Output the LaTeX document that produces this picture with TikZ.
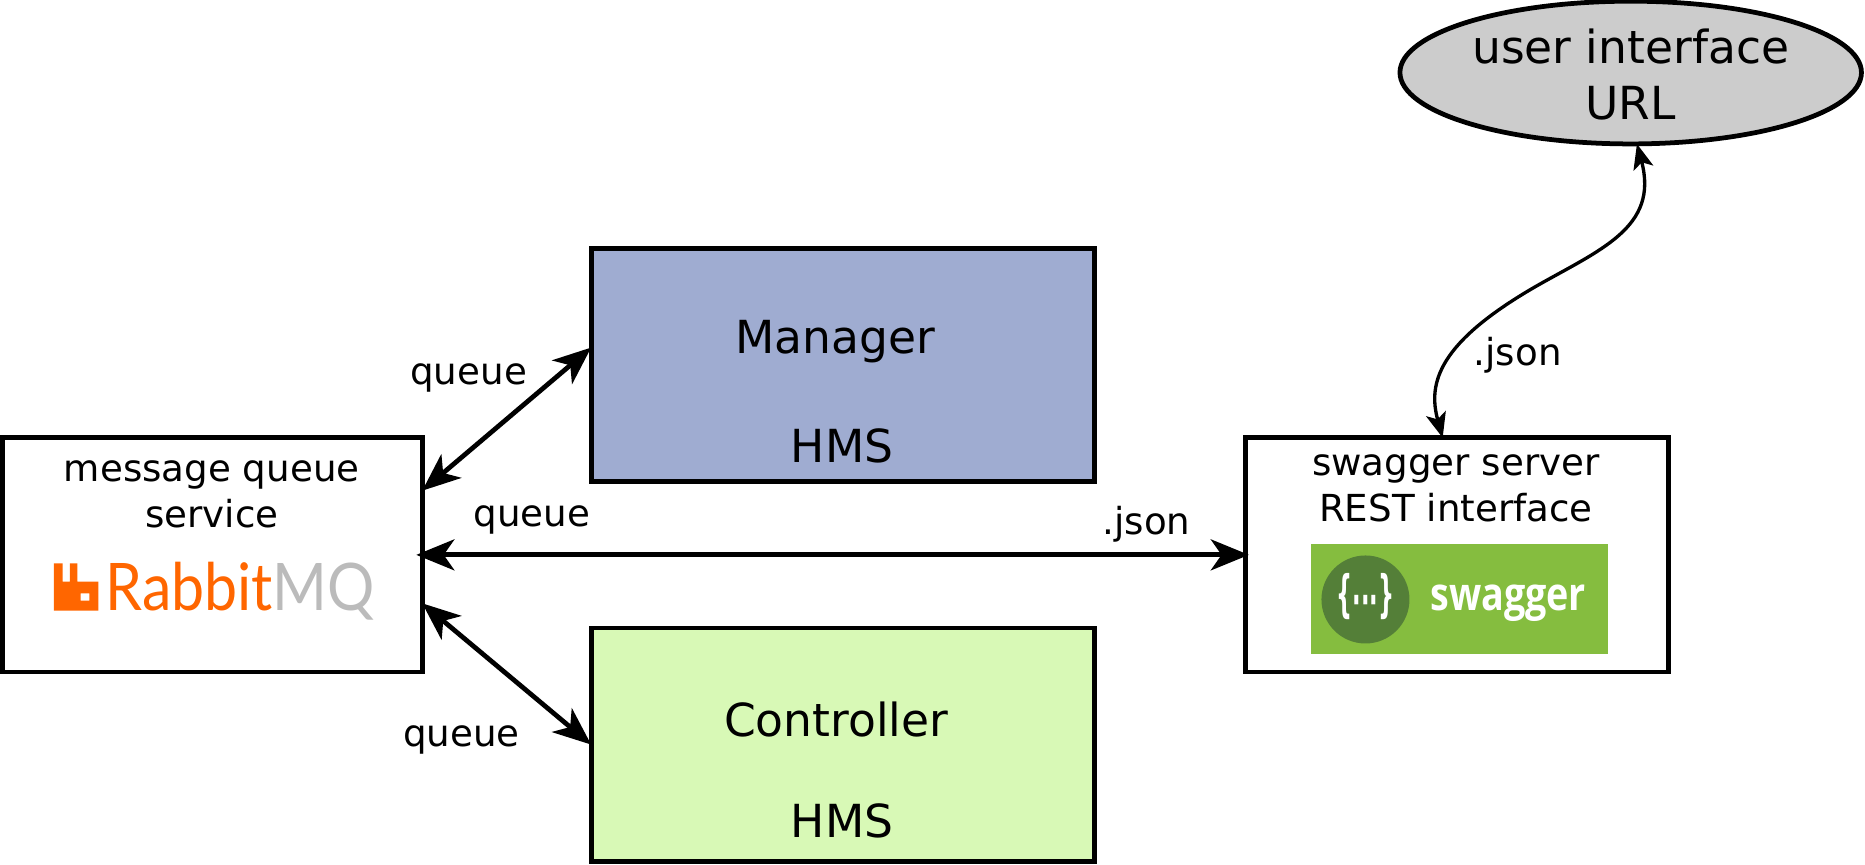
\documentclass[tikz,border=0pt]{standalone}
\usepackage{fontspec}
\setmainfont{DejaVu Sans}
\newfontfamily\rabbitfont[FakeStretch=0.9]{Lato}
\newfontfamily\swaggerfont[FakeStretch=0.82]{Open Sans}
\newfontfamily\bracefont[FakeStretch=0.45]{DejaVu Sans}
\usetikzlibrary{arrows.meta,shapes.geometric}
\definecolor{managerblue}{HTML}{9FACD1}
\definecolor{controllergreen}{HTML}{D8F9B6}
\definecolor{rabbitorange}{HTML}{FF6600}
\definecolor{rabbitgrey}{HTML}{BBBBBB}
\definecolor{swaggerlight}{HTML}{85BD3F}
\definecolor{swaggerdark}{HTML}{547F38}
\tikzset{
    boxnode/.style={draw, line width=0.04cm, inner sep=0pt, outer sep=0pt},
    smalltext/.style={font=\fontsize{8.9}{10.5}\selectfont, inner sep=0pt},
    bigtext/.style={font=\fontsize{10.9}{13}\selectfont, inner sep=0pt},
    duplex/.style={line width=0.04cm, {Stealth[length=0.32cm,width=0.26cm,inset=0.09cm]}-{Stealth[length=0.32cm,width=0.26cm,inset=0.09cm]}},
    thinduplex/.style={line width=0.028cm, {Stealth[length=0.21cm,width=0.17cm,inset=0.05cm]}-{Stealth[length=0.21cm,width=0.17cm,inset=0.05cm]}}
}
\begin{document}
\begin{tikzpicture}
    \useasboundingbox (0,0) rectangle (15.68,7.265);

    % Boxes
    \node[boxnode, fill=managerblue, minimum width=4.23cm, minimum height=1.96cm] (manager) at (7.085,4.195) {};
    \node[boxnode, fill=controllergreen, minimum width=4.23cm, minimum height=1.96cm] (controller) at (7.085,1.005) {};
    \node[boxnode, minimum width=3.53cm, minimum height=1.97cm] (rabbit) at (1.785,2.60) {};
    \node[boxnode, minimum width=3.56cm, minimum height=1.97cm] (swagger) at (12.25,2.60) {};
    \node[boxnode, ellipse, fill=black!20, minimum width=3.88cm, minimum height=1.20cm] (ui) at (13.71,6.655) {};

    % Box texts
    \node[bigtext] (managertext) at (7.02,4.395) {Manager};
    \node[bigtext] (managerhms) at (7.08,3.515) {HMS};
    \node[bigtext] (controllertext) at (7.03,1.215) {Controller};
    \node[bigtext] (controllerhms) at (7.08,0.365) {HMS};
    \node[smalltext] (rabbittop) at (1.78,3.275) {message queue};
    \node[smalltext] (rabbitbottom) at (1.78,2.945) {service};
    \node[smalltext] (swaggertop) at (12.24,3.325) {swagger server};
    \node[smalltext] (swaggerbottom) at (12.24,2.995) {REST interface};
    \node[bigtext] (uitop) at (13.71,6.875) {user interface};
    \node[bigtext] (uibottom) at (13.71,6.395) {URL};

    % RabbitMQ logo
    \fill[rabbitorange, even odd rule] (0.454,2.131) -- (0.454,2.529) -- (0.527,2.529) -- (0.527,2.375)
        -- (0.588,2.375) -- (0.588,2.529) -- (0.650,2.529) -- (0.650,2.375) -- (0.827,2.375) -- (0.827,2.131) -- cycle
        (0.678,2.277) rectangle (0.751,2.215);
    \node[anchor=base west, inner sep=0pt, font=\rabbitfont\fontsize{15.7}{18}\selectfont] (rabbitlogo) at (0.88,2.135)
        {\textcolor{rabbitorange}{Rabbit}\textcolor{rabbitgrey}{MQ}};

    % Swagger logo
    \fill[swaggerlight] (11.02,1.765) rectangle (13.52,2.695);
    \fill[swaggerdark] (11.48,2.225) circle (0.37);
    \node[text=white, inner sep=0pt, font=\bracefont\bfseries\fontsize{12}{14}\selectfont] (swaggerbraces) at (11.48,2.25) {\{\raisebox{-0.12em}{···}\}};
    \node[text=white, anchor=base, inner sep=0pt, font=\swaggerfont\bfseries\fontsize{11}{13}\selectfont] (swaggerlogo) at (12.68,2.135) {swagger};

    % Arrows
    \draw[duplex] (rabbit.17) -- (manager.176.75);
    \draw[duplex, shorten <=-0.05cm, shorten >=-0.03cm] (rabbit.east) -- (swagger.west);
    \draw[duplex] (rabbit.-13) -- (controller.west);
    \coordinate (bend) at (12.90,4.85);
    \draw[thinduplex] (swagger.97.5) .. controls (12.00,4.05) and (12.10,4.385) .. (bend)
        .. controls (13.45,5.165) and (13.95,5.35) .. (ui.-85);

    % Arrow labels
    \node[smalltext] (queueone) at (3.94,4.09) {queue};
    \node[smalltext] (queuetwo) at (4.47,2.89) {queue};
    \node[smalltext] (queuethree) at (3.88,1.04) {queue};
    \node[smalltext] (jsonone) at (9.64,2.86) {.json};
    \node[smalltext] (jsontwo) at (12.76,4.28) {.json};
\end{tikzpicture}
\end{document}
